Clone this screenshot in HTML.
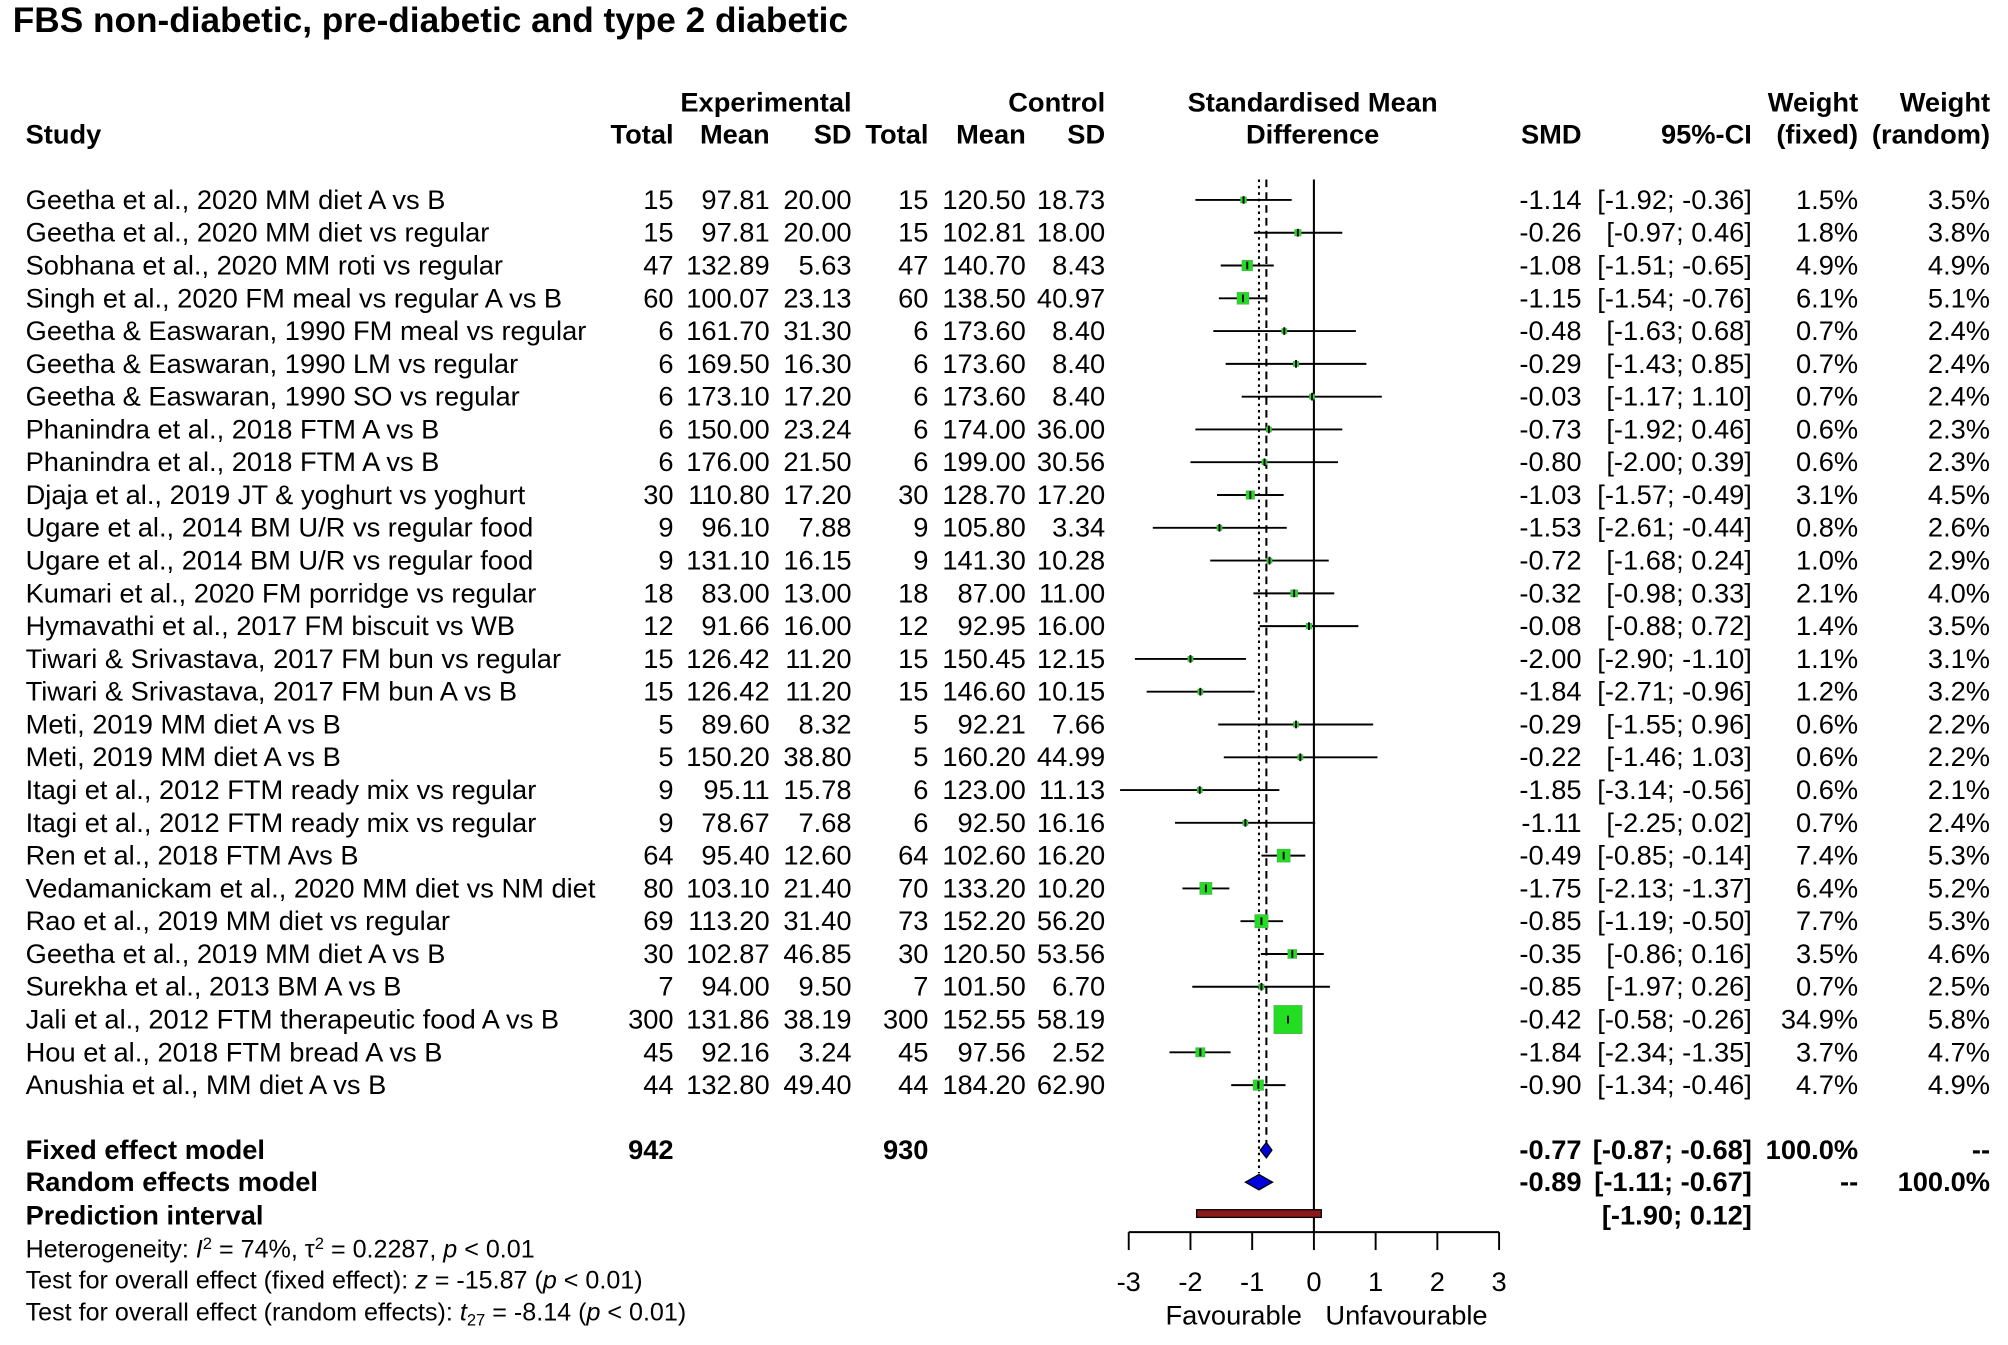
<!DOCTYPE html>
<html><head><meta charset="utf-8"><style>
html,body{margin:0;padding:0;background:#fff;}
svg{display:block;font-family:"Liberation Sans",Arial,sans-serif;}
</style></head><body>
<svg id="chart" xmlns="http://www.w3.org/2000/svg" width="2008" height="1345" viewBox="0 0 1568 1050">
<rect width="1568" height="1050" fill="#fff"/>
<text x="10" y="25" font-size="27.5" font-weight="bold">FBS non-diabetic, pre-diabetic and type 2 diabetic</text>
<g font-size="21.3" font-weight="bold">
<text x="665" y="87" text-anchor="end">Experimental</text>
<text x="863" y="87" text-anchor="end">Control</text>
<text x="1025" y="87" text-anchor="middle">Standardised Mean</text>
<text x="1451" y="87" text-anchor="end">Weight</text>
<text x="1554" y="87" text-anchor="end">Weight</text>
<text x="20" y="112">Study</text>
<text x="526" y="112" text-anchor="end">Total</text>
<text x="601" y="112" text-anchor="end">Mean</text>
<text x="665" y="112" text-anchor="end">SD</text>
<text x="725" y="112" text-anchor="end">Total</text>
<text x="801" y="112" text-anchor="end">Mean</text>
<text x="863" y="112" text-anchor="end">SD</text>
<text x="1025" y="112" text-anchor="middle">Difference</text>
<text x="1235" y="112" text-anchor="end">SMD</text>
<text x="1368" y="112" text-anchor="end">95%-CI</text>
<text x="1451" y="112" text-anchor="end">(fixed)</text>
<text x="1554" y="112" text-anchor="end">(random)</text>
</g>
<g id="rows"></g>
<g id="plot"></g>
<g font-size="21.3" font-weight="bold">
<text x="20" y="905">Fixed effect model</text>
<text x="526" y="905" text-anchor="end">942</text>
<text x="725" y="905" text-anchor="end">930</text>
<text x="1235" y="905" text-anchor="end">-0.77</text>
<text x="1368" y="905" text-anchor="end">[-0.87; -0.68]</text>
<text x="1451" y="905" text-anchor="end">100.0%</text>
<text x="1554" y="905" text-anchor="end">--</text>
<text x="20" y="930">Random effects model</text>
<text x="1235" y="930" text-anchor="end">-0.89</text>
<text x="1368" y="930" text-anchor="end">[-1.11; -0.67]</text>
<text x="1451" y="930" text-anchor="end">--</text>
<text x="1554" y="930" text-anchor="end">100.0%</text>
<text x="20" y="956">Prediction interval</text>
<text x="1368" y="956" text-anchor="end">[-1.90; 0.12]</text>
</g>
<g font-size="19.6">
<text x="20" y="982">Heterogeneity: <tspan font-style="italic">I</tspan><tspan font-size="13" dy="-7">2</tspan><tspan dy="7"> = 74%, τ</tspan><tspan font-size="13" dy="-7">2</tspan><tspan dy="7"> = 0.2287, </tspan><tspan font-style="italic">p</tspan> &lt; 0.01</text>
<text x="20" y="1006">Test for overall effect (fixed effect): <tspan font-style="italic">z</tspan> = -15.87 (<tspan font-style="italic">p</tspan> &lt; 0.01)</text>
<text x="20" y="1031">Test for overall effect (random effects): <tspan font-style="italic">t</tspan><tspan font-size="13" dy="4">27</tspan><tspan dy="-4"> = -8.14 (</tspan><tspan font-style="italic">p</tspan> &lt; 0.01)</text>
</g>
<script>
const studies=["Geetha et al., 2020 MM diet A vs B","Geetha et al., 2020 MM diet vs regular","Sobhana et al., 2020 MM roti vs regular","Singh et al., 2020 FM meal vs regular A vs B","Geetha & Easwaran, 1990 FM meal vs regular","Geetha & Easwaran, 1990 LM vs regular","Geetha & Easwaran, 1990 SO vs regular","Phanindra et al., 2018 FTM A vs B","Phanindra et al., 2018 FTM A vs B","Djaja et al., 2019 JT & yoghurt vs yoghurt","Ugare et al., 2014 BM U/R vs regular food","Ugare et al., 2014 BM U/R vs regular food","Kumari et al., 2020 FM porridge vs regular","Hymavathi et al., 2017 FM biscuit vs WB","Tiwari & Srivastava, 2017 FM bun vs regular","Tiwari & Srivastava, 2017 FM bun A vs B","Meti, 2019 MM diet A vs B","Meti, 2019 MM diet A vs B","Itagi et al., 2012 FTM ready mix vs regular","Itagi et al., 2012 FTM ready mix vs regular","Ren et al., 2018 FTM Avs B","Vedamanickam et al., 2020 MM diet vs NM diet","Rao et al., 2019 MM diet vs regular","Geetha et al., 2019 MM diet A vs B","Surekha et al., 2013 BM A vs B","Jali et al., 2012 FTM therapeutic food A vs B","Hou et al., 2018 FTM bread A vs B","Anushia et al., MM diet A vs B"];
const expTotal=[15,15,47,60,6,6,6,6,6,30,9,9,18,12,15,15,5,5,9,9,64,80,69,30,7,300,45,44];
const expMean=["97.81","97.81","132.89","100.07","161.70","169.50","173.10","150.00","176.00","110.80","96.10","131.10","83.00","91.66","126.42","126.42","89.60","150.20","95.11","78.67","95.40","103.10","113.20","102.87","94.00","131.86","92.16","132.80"];
const expSD=["20.00","20.00","5.63","23.13","31.30","16.30","17.20","23.24","21.50","17.20","7.88","16.15","13.00","16.00","11.20","11.20","8.32","38.80","15.78","7.68","12.60","21.40","31.40","46.85","9.50","38.19","3.24","49.40"];
const ctlTotal=[15,15,47,60,6,6,6,6,6,30,9,9,18,12,15,15,5,5,6,6,64,70,73,30,7,300,45,44];
const ctlMean=["120.50","102.81","140.70","138.50","173.60","173.60","173.60","174.00","199.00","128.70","105.80","141.30","87.00","92.95","150.45","146.60","92.21","160.20","123.00","92.50","102.60","133.20","152.20","120.50","101.50","152.55","97.56","184.20"];
const ctlSD=["18.73","18.00","8.43","40.97","8.40","8.40","8.40","36.00","30.56","17.20","3.34","10.28","11.00","16.00","12.15","10.15","7.66","44.99","11.13","16.16","16.20","10.20","56.20","53.56","6.70","58.19","2.52","62.90"];
const smd=[-1.14,-0.26,-1.08,-1.15,-0.48,-0.29,-0.03,-0.73,-0.80,-1.03,-1.53,-0.72,-0.32,-0.08,-2.00,-1.84,-0.29,-0.22,-1.85,-1.11,-0.49,-1.75,-0.85,-0.35,-0.85,-0.42,-1.84,-0.90];
const lower=[-1.92,-0.97,-1.51,-1.54,-1.63,-1.43,-1.17,-1.92,-2.00,-1.57,-2.61,-1.68,-0.98,-0.88,-2.90,-2.71,-1.55,-1.46,-3.14,-2.25,-0.85,-2.13,-1.19,-0.86,-1.97,-0.58,-2.34,-1.34];
const upper=[-0.36,0.46,-0.65,-0.76,0.68,0.85,1.10,0.46,0.39,-0.49,-0.44,0.24,0.33,0.72,-1.10,-0.96,0.96,1.03,-0.56,0.02,-0.14,-1.37,-0.50,0.16,0.26,-0.26,-1.35,-0.46];
const wFixed=[1.5,1.8,4.9,6.1,0.7,0.7,0.7,0.6,0.6,3.1,0.8,1.0,2.1,1.4,1.1,1.2,0.6,0.6,0.6,0.7,7.4,6.4,7.7,3.5,0.7,34.9,3.7,4.7];
const wRandom=[3.5,3.8,4.9,5.1,2.4,2.4,2.4,2.3,2.3,4.5,2.6,2.9,4.0,3.5,3.1,3.2,2.2,2.2,2.1,2.4,5.3,5.2,5.3,4.6,2.5,5.8,4.7,4.9];
const fixedEst=-0.77, fixedLo=-0.87, fixedHi=-0.68;
const randEst=-0.89, randLo=-1.11, randHi=-0.67;
const predLo=-1.90, predHi=0.12;
const ticks=[-3,-2,-1,0,1,2,3];

const NS="http://www.w3.org/2000/svg";
const X=v=>1026+48.2*v;
const Y=i=>156+i*25.6;
function mk(tag,attrs,parent){const e=document.createElementNS(NS,tag);for(const k in attrs)e.setAttribute(k,attrs[k]);parent.appendChild(e);return e;}
const rows=document.getElementById('rows');
const plot=document.getElementById('plot');
const f=v=>v.toFixed(2);
studies.forEach((s,i)=>{
  const g=mk('g',{'font-size':21.3},rows);
  
  
  const y=Y(i)+7;
  const cells=[[20,s,'start'],[526,expTotal[i],'end'],[601,expMean[i],'end'],[665,expSD[i],'end'],[725,ctlTotal[i],'end'],[801,ctlMean[i],'end'],[863,ctlSD[i],'end'],[1235,f(smd[i]),'end'],[1368,'['+f(lower[i])+'; '+f(upper[i])+']','end'],[1451,wFixed[i].toFixed(1)+'%','end'],[1554,wRandom[i].toFixed(1)+'%','end']];
  cells.forEach(c=>{const t=mk('text',{x:c[0],y:y,'text-anchor':c[2]},g);t.textContent=c[1];});
});
const zl=mk('line',{x1:X(0),x2:X(0),y1:140,y2:962,stroke:'#000','stroke-width':1.6},plot);


const fl=mk('line',{x1:X(fixedEst),x2:X(fixedEst),y1:140,y2:892,stroke:'#000','stroke-width':1.6,'stroke-dasharray':'6 4'},plot);


const rl=mk('line',{x1:X(randEst),x2:X(randEst),y1:140,y2:916,stroke:'#000','stroke-width':1.6,'stroke-dasharray':'2 3'},plot);


smd.forEach((v,i)=>{
  const y=Y(i);
  const ci=mk('line',{x1:X(lower[i]),x2:X(upper[i]),y1:y,y2:y,stroke:'#000','stroke-width':1.5},plot);
  
  
  const s=Math.max(4,22*Math.sqrt(wFixed[i]/34.9));
  const b=mk('rect',{x:X(v)-s/2,y:y-s/2,width:s,height:s,fill:'#22dd22',stroke:'#55aa55','stroke-width':0.5},plot);
  
  
  const m=mk('line',{x1:X(v),x2:X(v),y1:y-3,y2:y+3,stroke:'#000','stroke-width':1.5},plot);
  
  
});
function diamond(lo,est,hi,y,h,name){
  const p=mk('polygon',{points:`${X(lo)},${y} ${X(est)},${y-h} ${X(hi)},${y} ${X(est)},${y+h}`,fill:'#0000dd',stroke:'#000','stroke-width':1},plot);
  
  
}
diamond(fixedLo,fixedEst,fixedHi,898,6,'fixed-effect-diamond');
diamond(randLo,randEst,randHi,923,6,'random-effect-diamond');
const pi=mk('rect',{x:X(predLo),y:944.5,width:X(predHi)-X(predLo),height:6,fill:'#8b1a1a',stroke:'#000','stroke-width':1},plot);


const ax=mk('line',{x1:X(ticks[0]),x2:X(ticks[ticks.length-1]),y1:962,y2:962,stroke:'#000','stroke-width':1.5},plot);


ticks.forEach(t=>{
  const tk=mk('line',{x1:X(t),x2:X(t),y1:962,y2:976,stroke:'#000','stroke-width':1.5},plot);
  
  
  const lb=mk('text',{x:X(t),y:1008,'text-anchor':'middle','font-size':21.3},plot);
  
  
  lb.textContent=String(t);
});
const fa=mk('text',{x:X(-1.3),y:1034,'text-anchor':'middle','font-size':21.3},plot);


fa.textContent='Favourable';
const ua=mk('text',{x:X(1.5),y:1034,'text-anchor':'middle','font-size':21.3},plot);


ua.textContent='Unfavourable';
</script>
</svg>
</body></html>
